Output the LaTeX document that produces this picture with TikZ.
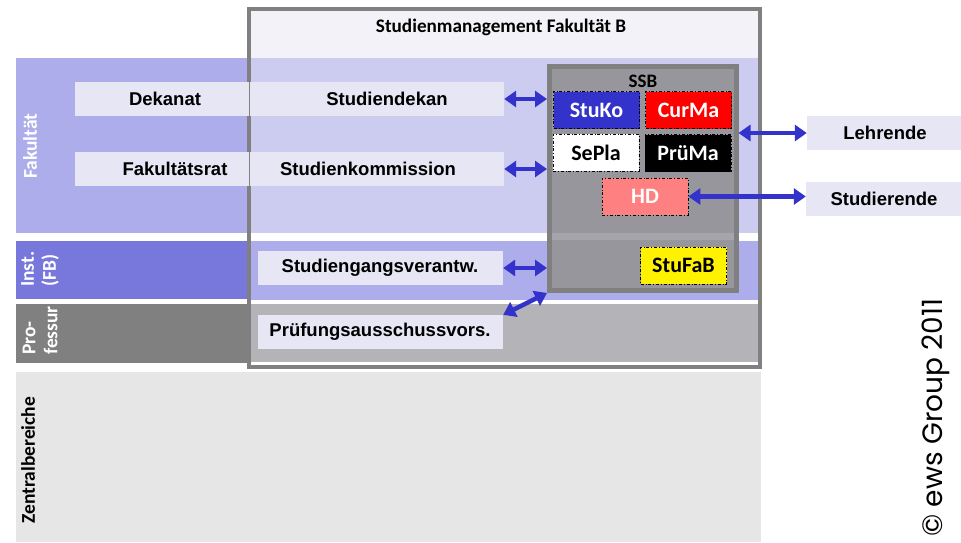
\documentclass[tikz,border=0pt]{standalone}
\usepackage{fontspec}
\setmainfont{Liberation Sans}
\newfontfamily\calfont{Carlito}
\newfontfamily\copyfont{Poppins}
\usetikzlibrary{arrows.meta}

\definecolor{fakout}{RGB}{173,173,235}
\definecolor{fakin}{RGB}{204,204,241}
\definecolor{instout}{RGB}{120,120,220}
\definecolor{instin}{RGB}{173,173,235}
\definecolor{profout}{RGB}{128,128,128}
\definecolor{profin}{RGB}{179,179,184}
\definecolor{zentral}{RGB}{230,230,230}
\definecolor{boxtop}{RGB}{242,242,248}
\definecolor{boxline}{RGB}{128,128,128}
\definecolor{lblfill}{RGB}{230,230,245}
\definecolor{ssbfill}{RGB}{150,150,156}
\definecolor{ssbstrip}{RGB}{166,166,170}
\definecolor{arrowblue}{RGB}{51,51,204}
\definecolor{stukoblue}{RGB}{51,51,204}
\definecolor{hdpink}{RGB}{255,128,128}

\tikzset{
  lblbox/.style={fill=lblfill, draw=none, inner sep=0pt},
  lbltext/.style={font=\fontsize{18.5}{22}\selectfont\bfseries, inner sep=0pt},
  sidelbl/.style={font=\calfont\fontsize{19.5}{22}\selectfont\bfseries, rotate=90,
                  anchor=west, align=left, inner sep=0pt},
  unit/.style={draw=black, line width=0.7pt, dash dot, inner sep=0pt,
               minimum width=86pt, minimum height=37pt,
               font=\calfont\fontsize{22}{24}\selectfont\bfseries},
  dbl/.style={draw=arrowblue, line width=4.5pt,
              {Triangle[width=16pt,length=12pt]}-{Triangle[width=16pt,length=12pt]}}
}

\begin{document}
\begin{tikzpicture}[x=1pt,y=-1pt]
\useasboundingbox (0,0) rectangle (961,543);
\fill[white] (0,0) rectangle (961,543);

% organisational bands, left part
\fill[fakout]  (16,58)  rectangle (249,233);
\fill[instout] (16,241) rectangle (249,299);
\fill[profout] (16,304) rectangle (249,363);
\fill[zentral] (16,372) rectangle (761,542);

% Studienmanagement frame with the bands seen through it
\fill[boxtop] (249,9) rectangle (760,367);
\fill[fakin]  (249,58)  rectangle (760,233);
\fill[white]  (249,233) rectangle (760,241);
\fill[instin] (249,241) rectangle (760,300);
\fill[white]  (249,300) rectangle (760,304);
\fill[profin] (249,304) rectangle (760,362);
\fill[white]  (249,362) rectangle (760,367);
\node[draw=boxline, line width=3.5pt, inner sep=0pt,
      minimum width=511pt, minimum height=358pt] (smb) at (504.5,188) {};
\node[font=\calfont\fontsize{19.2}{22}\selectfont\bfseries] (smbtitle) at (501,27)
  {Studienmanagement Fakultät B};

% side labels
\node[sidelbl, white] (lfak)  at (30,179) {Fakultät};
\node[sidelbl, white] (linst) at (40,287) {Inst.\\(FB)};
\node[sidelbl, white] (lprof) at (40,355) {Pro-\\fessur};
\node[sidelbl, black] (lzen)  at (28,524) {Zentralbereiche};

% role boxes
\node[lblbox, minimum width=174pt, minimum height=34pt] (dek)  at (162,99)  {};
\node[lbltext] at (165,99) {Dekanat};
\node[lblbox, minimum width=254pt, minimum height=34pt] (sdek) at (377,99)  {};
\node[lbltext] at (387,99) {Studiendekan};
\node[lblbox, minimum width=174pt, minimum height=34pt] (frat) at (162,169) {};
\node[lbltext] at (175,169) {Fakultätsrat};
\node[lblbox, minimum width=254pt, minimum height=34pt] (skom) at (377,169) {};
\node[lbltext] at (368,169) {Studienkommission};
\node[lblbox, minimum width=245pt, minimum height=34pt] (sgv)  at (380.5,268) {};
\node[lbltext] at (380,268) {Studiengangsverantw.};
\node[lblbox, minimum width=245pt, minimum height=34pt] (pav)  at (380.5,332) {};
\node[lbltext] at (380,332) {Prüfungsausschussvors.};
\node[lblbox, minimum width=154pt, minimum height=34pt] (lehr) at (884,133) {};
\node[lbltext] at (885,133) {Lehrende};
\node[lblbox, minimum width=155pt, minimum height=34pt] (stud) at (883.5,199) {};
\node[lbltext] at (884,199) {Studierende};

% SSB block
\node[fill=ssbfill, draw=boxline, line width=5pt, inner sep=0pt,
      minimum width=186.5pt, minimum height=224pt] (ssb) at (642.75,178.5) {};
\fill[ssbstrip] (552,233) rectangle (733.5,240);
\node[font=\calfont\fontsize{19}{21}\selectfont\bfseries] (ssbtitle) at (643,81) {SSB};

\node[unit, fill=stukoblue, text=white] (stuko)  at (596.5,110)   {StuKo};
\node[unit, fill=red,       text=white] (curma)  at (688.5,110)   {CurMa};
\node[unit, fill=white,     text=black] (sepla)  at (596,152.5)   {SePla};
\node[unit, fill=black,     text=white] (pruema) at (688,153)     {PrüMa};
\node[unit, fill=hdpink,    text=white] (hd)     at (645,196.5)   {HD};
\node[unit, fill=yellow,    text=black] (stufab) at (683.5,265.5) {StuFaB};

% connectors
\draw[dbl] (sdek.east) -- (sdek.east -| ssb.west);
\draw[dbl] (skom.east) -- (skom.east -| ssb.west);
\draw[dbl] (sgv.east)  -- (sgv.east -| ssb.west);
\draw[dbl] (pav.north east) -- (ssb.south west);
\draw[dbl] (lehr.west -| ssb.east) -- (lehr.west);
\draw[dbl] (hd.east) -- (hd.east -| stud.west);

% copyright
\node[font=\copyfont\fontsize{28}{32}\selectfont, rotate=90, anchor=west, inner sep=0pt]
  (copy) at (936,537) {© ews Group 2011};
\end{tikzpicture}
\end{document}
